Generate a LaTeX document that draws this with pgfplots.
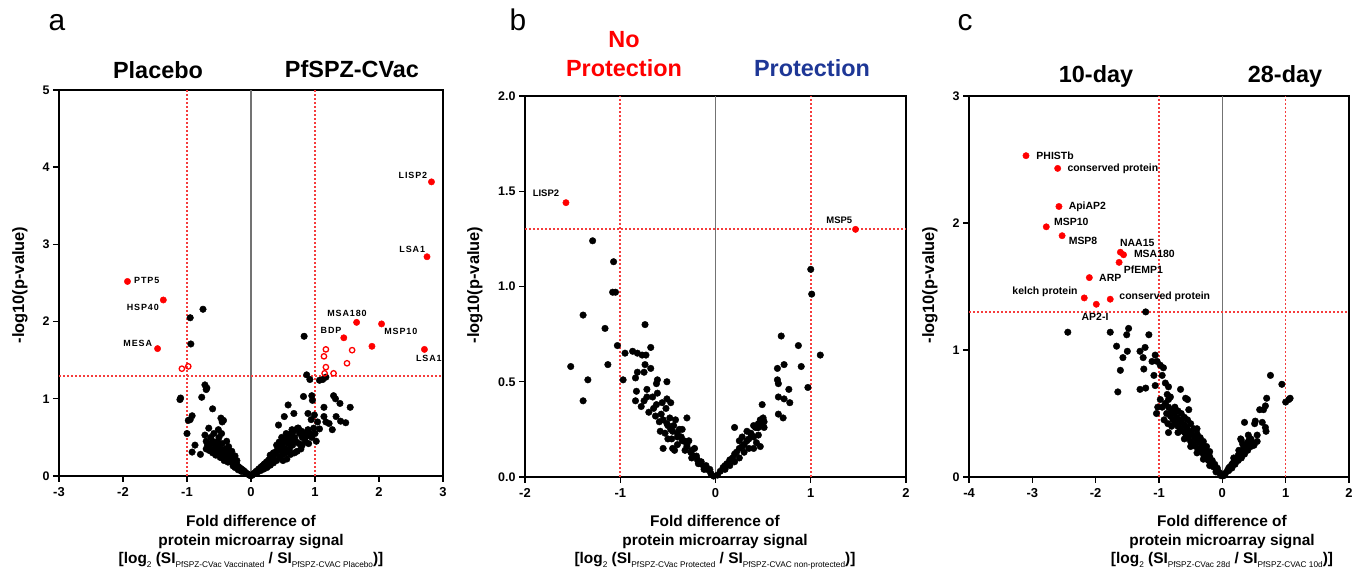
\documentclass[border=0pt]{standalone}
\usepackage{fontspec}
\setmainfont{Liberation Sans}
\newfontfamily\spacedfont[LetterSpace=10]{Liberation Sans}
\usepackage{pgfplots}
\pgfplotsset{compat=1.18}
\definecolor{myred}{RGB}{255,0,0}
\definecolor{thrred}{RGB}{245,60,60}
\definecolor{myblue}{RGB}{30,55,150}
\newcommand{\labfont}{\fontsize{15.5}{15.5}\selectfont\bfseries}
\newcommand{\ylfont}{\fontsize{16.5}{16.5}\selectfont\bfseries}
\newcommand{\hdfont}{\fontsize{23.5}{23.5}\selectfont\bfseries}
\newcommand{\pfont}{\fontsize{30}{30}\selectfont}
\newcommand{\lafont}{\spacedfont\fontsize{9}{9}\selectfont\bfseries}
\newcommand{\lbfont}{\fontsize{9.5}{9.5}\selectfont\bfseries}
\newcommand{\lcfont}{\fontsize{10.5}{10.5}\selectfont\bfseries}
\newcommand{\sub}[1]{\raisebox{-0.28em}{\fontsize{8.3}{8.3}\selectfont\mdseries #1}}
\tikzset{
 zl/.style={draw=black!55, line width=1.2bp},
}
\pgfplotsset{
 volc/.style={
  scale only axis, anchor=south west,
  axis line style={line width=1.6bp, black},
  tick align=outside, tick pos=left,
  major tick length=6bp,
  every tick/.style={black, line width=1.4bp},
  yticklabel style={font=\fontsize{12.5}{12.5}\selectfont\bfseries},
  xticklabel style={font=\fontsize{13}{13}\selectfont\bfseries, yshift=-2bp},
  /pgf/number format/assume math mode=true,
  clip=false,
 },
 thr/.style={no marks, draw=thrred, line width=1.6bp, dash pattern=on 2bp off 2bp, forget plot},
 thrh/.style={no marks, draw=thrred, line width=2bp, dash pattern=on 2bp off 2bp, forget plot},
 blk/.style={only marks, mark=*, mark size=3.3bp, mark options={fill=black, draw=black}},
 redf/.style={only marks, mark=*, mark size=3.2bp, mark options={fill=myred, draw=myred}},
 redo/.style={only marks, mark=o, mark size=2.7bp, mark options={draw=myred, line width=1.3bp}},
}
\begin{document}
\begin{tikzpicture}
\useasboundingbox (0,0) rectangle (1361bp,571bp);
% ================= panel a =================
\begin{axis}[volc, at={(59bp,95bp)}, width=384bp, height=386bp,
  xmin=-3, xmax=3, ymin=0, ymax=5, xtick={-3,-2,-1,0,1,2,3}, ytick={0,1,2,3,4,5}]
\draw[zl] (axis cs:0,0) -- (axis cs:0,5);
\addplot[thr] coordinates {(-1,0) (-1,5)};
\addplot[thr] coordinates {(1,0) (1,5)};
\addplot[thrh] coordinates {(-3,1.3) (3,1.3)};
\addplot[blk] coordinates {
(-0.95,2.05) (-0.75,2.16) (-0.94,1.71) (-1.10,1.01) (-1.11,0.99) (-0.72,1.18) (-0.69,1.14) (-0.70,1.12)
(-0.77,1.02) (-0.92,0.78) (-0.95,0.73) (-0.98,0.72) (-1.00,0.55) (-0.875,0.40) (-0.92,0.31) (-0.79,0.28)
(-0.60,0.87) (-0.47,0.75) (-0.43,0.72) (-0.45,0.70) (-0.66,0.62) (-0.72,0.53) (-0.60,0.45) (-0.51,0.60)
(-0.46,0.55) (-0.50,0.50) (-0.70,0.45) (-0.68,0.40) (-0.65,0.38) (-0.62,0.42) (-0.58,0.35) (-0.55,0.40)
(-0.55,0.32) (-0.52,0.38) (-0.50,0.30) (-0.48,0.35) (-0.47,0.28) (-0.45,0.32) (-0.43,0.26) (-0.42,0.30)
(-0.40,0.24) (-0.38,0.28) (-0.36,0.22) (-0.35,0.25) (-0.33,0.20) (-0.32,0.23) (-0.30,0.18) (-0.28,0.20)
(-0.27,0.16) (-0.25,0.17) (-0.23,0.14) (-0.22,0.15) (-0.20,0.12) (-0.18,0.11) (-0.17,0.10) (-0.15,0.09)
(-0.13,0.08) (-0.12,0.06) (-0.10,0.06) (-0.08,0.04) (-0.06,0.03) (-0.04,0.02) (-0.02,0.01) (-0.01,0.005)
(-0.60,0.30) (-0.65,0.33) (-0.40,0.35) (-0.45,0.42) (-0.38,0.33) (-0.52,0.45) (-0.33,0.27) (-0.30,0.24)
(-0.55,0.27) (-0.48,0.24) (-0.42,0.20) (-0.36,0.18) (-0.28,0.13) (-0.25,0.11) (-0.20,0.08) (-0.15,0.06)
(-0.70,0.35) (-0.63,0.50) (-0.58,0.55) (-0.38,0.45) (-0.35,0.38) (-0.30,0.32) (-0.25,0.26) (-0.22,0.20)
(0.83,1.81) (0.87,1.31) (0.92,1.25) (1.07,1.24) (1.12,1.25) (1.17,1.28) (0.82,1.03) (0.95,1.04)
(0.96,0.98) (1.29,1.04) (1.32,1.00) (1.39,0.94) (1.55,0.89) (1.14,0.89) (0.58,0.92) (0.67,0.81)
(0.52,0.77) (0.43,0.66) (0.89,0.81) (0.99,0.79) (0.94,0.73) (1.14,0.77) (1.33,0.77) (1.22,0.68)
(1.04,0.70) (1.07,0.61) (1.48,0.69) (1.40,0.71) (1.27,0.60) (1.17,0.70) (0.64,0.60) (0.74,0.62)
(0.79,0.58) (0.89,0.60) (0.98,0.62) (1.00,0.55) (0.95,0.50) (1.02,0.45)
(0.02,0.01) (0.04,0.03) (0.06,0.04) (0.08,0.06) (0.10,0.07) (0.12,0.09) (0.14,0.10) (0.16,0.12)
(0.18,0.13) (0.20,0.15) (0.22,0.16) (0.24,0.18) (0.26,0.19) (0.28,0.21) (0.30,0.22) (0.32,0.24)
(0.34,0.26) (0.36,0.27) (0.38,0.30) (0.40,0.32) (0.42,0.35) (0.45,0.38) (0.48,0.40) (0.50,0.43)
(0.52,0.45) (0.55,0.48) (0.58,0.50) (0.60,0.53) (0.63,0.55) (0.66,0.58) (0.70,0.60) (0.73,0.62)
(0.76,0.55) (0.80,0.50) (0.84,0.55) (0.88,0.52) (0.92,0.55) (0.70,0.45) (0.65,0.40) (0.60,0.35)
(0.55,0.30) (0.50,0.28) (0.45,0.25) (0.40,0.20) (0.35,0.17) (0.30,0.14) (0.25,0.11) (0.20,0.09)
(0.15,0.07) (0.10,0.05) (0.75,0.42) (0.80,0.40) (0.85,0.45) (0.90,0.42) (0.78,0.35) (0.72,0.32)
(0.68,0.30) (0.62,0.28) (0.56,0.22) (0.50,0.20) (0.46,0.33) (0.52,0.36) (0.58,0.42) (0.62,0.46)
(0.68,0.50) (0.35,0.30) (0.30,0.27) (0.40,0.40) (0.44,0.44) (0.48,0.50) (0.55,0.55)
};
\addplot[redo] coordinates {
(-1.08,1.39) (-0.98,1.42) (1.17,1.64) (1.14,1.55) (1.58,1.63) (1.50,1.46) (1.17,1.41) (1.15,1.33) (1.29,1.33)
};
\addplot[redf] coordinates {
(2.82,3.81) (2.75,2.84) (-1.93,2.52) (-1.37,2.28) (-1.46,1.65) (1.65,1.99) (2.04,1.97) (1.45,1.79) (1.89,1.68) (2.71,1.64)
};
\node[font=\lafont] at (axis cs:2.53,3.89) {LISP2};
\node[font=\lafont] at (axis cs:2.52,2.94) {LSA1};
\node[font=\lafont] at (axis cs:-1.63,2.53) {PTP5};
\node[font=\lafont] at (axis cs:-1.69,2.19) {HSP40};
\node[font=\lafont] at (axis cs:-1.77,1.72) {MESA};
\node[font=\lafont] at (axis cs:1.50,2.10) {MSA180};
\node[font=\lafont] at (axis cs:1.25,1.89) {BDP};
\node[font=\lafont] at (axis cs:2.34,1.87) {MSP10};
\node[font=\lafont] at (axis cs:2.78,1.52) {LSA1};
\end{axis}
% ================= panel b =================
\begin{axis}[volc, at={(525bp,94bp)}, width=381bp, height=381bp,
  xmin=-2, xmax=2, ymin=0, ymax=2, xtick={-2,-1,0,1,2}, ytick={0,0.5,1,1.5,2},
  yticklabel style={/pgf/number format/.cd, fixed, fixed zerofill, precision=1}]
\draw[zl] (axis cs:0,0) -- (axis cs:0,2);
\addplot[thr] coordinates {(-1,0) (-1,2)};
\addplot[thr] coordinates {(1,0) (1,2)};
\addplot[thrh] coordinates {(-2,1.3) (2,1.3)};
\addplot[blk] coordinates {
(-1.29,1.24) (-1.07,1.13) (-1.08,0.97) (-1.05,0.97) (-1.39,0.85) (-1.16,0.78) (-0.74,0.80) (-1.52,0.58)
(-1.13,0.59) (-1.34,0.51) (-1.39,0.40) (-1.03,0.69) (-0.97,0.51)
(-0.68,0.68) (-0.82,0.65) (-0.77,0.64) (-0.73,0.64) (-0.95,0.65) (-0.87,0.66) (-0.74,0.59) (-0.68,0.57)
(-0.82,0.55) (-0.75,0.55) (-0.84,0.52) (-0.61,0.51) (-0.62,0.49) (-0.51,0.50) (-0.83,0.45) (-0.72,0.46)
(-0.72,0.42) (-0.61,0.44) (-0.84,0.40) (-0.78,0.37) (-0.75,0.40) (-0.51,0.41) (-0.47,0.39) (-0.52,0.36)
(-0.70,0.34) (-0.65,0.36) (-0.63,0.32) (-0.59,0.29) (-0.30,0.31) (-0.51,0.28) (-0.47,0.25) (-0.42,0.30)
(-0.40,0.23) (-0.35,0.25) (-0.33,0.19) (-0.55,0.15) (-0.43,0.14) (-0.45,0.15) (-0.30,0.16) (-0.26,0.13)
(-0.23,0.11) (-0.19,0.09) (-0.16,0.07) (-0.12,0.05) (-0.09,0.04) (-0.05,0.02) (-0.02,0.005)
(-0.55,0.30) (-0.50,0.27) (-0.45,0.24) (-0.40,0.21) (-0.35,0.19) (-0.30,0.17) (-0.25,0.14) (-0.20,0.11)
(-0.15,0.08) (-0.10,0.06) (-0.06,0.04) (-0.58,0.24) (-0.50,0.20) (-0.40,0.17) (-0.32,0.14) (-0.25,0.10)
(-0.18,0.07) (-0.12,0.04) (-0.62,0.38) (-0.57,0.33) (-0.48,0.31) (-0.44,0.27) (-0.38,0.25) (-0.36,0.21)
(-0.28,0.19) (-0.22,0.15) (-0.66,0.42) (-0.56,0.39) (-0.53,0.23) (-0.46,0.20)
(0.69,0.74) (0.87,0.69) (1.10,0.64) (0.72,0.59) (0.65,0.57) (0.90,0.58) (0.65,0.51) (0.66,0.49)
(0.77,0.46) (0.97,0.47) (0.66,0.42) (0.72,0.41) (0.78,0.39) (0.49,0.38) (0.66,0.33) (0.71,0.31)
(0.47,0.30) (0.49,0.28) (0.42,0.26) (0.45,0.26) (0.51,0.26) (0.20,0.26) (0.37,0.23) (0.40,0.21)
(0.45,0.22) (0.47,0.16) (1.00,1.09) (1.01,0.96) (0.51,0.29) (0.44,0.26)
(0.02,0.01) (0.05,0.03) (0.08,0.05) (0.10,0.06) (0.12,0.07) (0.15,0.09) (0.18,0.10) (0.20,0.12)
(0.22,0.13) (0.25,0.15) (0.28,0.16) (0.30,0.17) (0.33,0.19) (0.35,0.20) (0.38,0.22) (0.10,0.04)
(0.15,0.06) (0.20,0.08) (0.25,0.10) (0.30,0.13) (0.35,0.15) (0.40,0.15) (0.43,0.18) (0.33,0.24)
(0.28,0.21) (0.25,0.19) (0.40,0.27) (0.45,0.28) (0.48,0.30) (0.50,0.31)
};
\addplot[redf] coordinates {(-1.57,1.44) (1.47,1.30)};
\node[font=\lbfont] at (axis cs:-1.78,1.49) {LISP2};
\node[font=\lbfont] at (axis cs:1.30,1.35) {MSP5};
\end{axis}
% ================= panel c =================
\begin{axis}[volc, at={(969bp,94bp)}, width=380bp, height=381bp,
  xmin=-4, xmax=2, ymin=0, ymax=3, xtick={-4,-3,-2,-1,0,1,2}, ytick={0,1,2,3}]
\draw[zl] (axis cs:0,0) -- (axis cs:0,3);
\addplot[thr] coordinates {(-1,0) (-1,3)};
\addplot[thr] coordinates {(1,0) (1,3)};
\addplot[thrh] coordinates {(-4,1.3) (2,1.3)};
\addplot[blk] coordinates {
(-1.21,1.30) (-2.44,1.14) (-1.77,1.14) (-1.48,1.17) (-1.51,1.12) (-1.16,1.12) (-1.67,1.03) (-1.22,1.02)
(-1.50,0.99) (-1.57,0.94) (-1.30,0.99) (-1.25,0.94) (-1.61,0.84) (-1.24,0.85) (-1.65,0.67) (-1.30,0.69)
(-1.21,0.70) (-1.06,0.96) (-1.03,0.91) (-1.08,0.80) (-1.06,0.72)
(-1.11,0.91) (-0.98,0.88) (-0.93,0.86) (-0.95,0.80) (-0.90,0.74) (-0.85,0.71) (-0.87,0.65) (-0.82,0.63)
(-0.85,0.61) (-0.98,0.61) (-1.02,0.55) (-1.04,0.50) (-0.66,0.69) (-0.58,0.62) (-0.55,0.61) (-0.53,0.53)
(-0.85,0.35) (-0.40,0.38)
(-0.95,0.55) (-0.90,0.58) (-0.88,0.50) (-0.85,0.55) (-0.82,0.48) (-0.80,0.52) (-0.78,0.45) (-0.76,0.50)
(-0.74,0.42) (-0.72,0.47) (-0.70,0.40) (-0.68,0.45) (-0.66,0.38) (-0.64,0.43) (-0.62,0.36) (-0.60,0.41)
(-0.58,0.34) (-0.56,0.39) (-0.54,0.31) (-0.52,0.36) (-0.50,0.28) (-0.48,0.34) (-0.46,0.26) (-0.44,0.31)
(-0.42,0.24) (-0.40,0.29) (-0.38,0.22) (-0.36,0.27) (-0.34,0.20) (-0.32,0.24) (-0.30,0.18) (-0.28,0.22)
(-0.26,0.15) (-0.24,0.19) (-0.22,0.13) (-0.20,0.16) (-0.18,0.11) (-0.16,0.13) (-0.14,0.08) (-0.12,0.10)
(-0.10,0.06) (-0.08,0.07) (-0.06,0.04) (-0.04,0.03) (-0.02,0.01) (-0.75,0.55) (-0.70,0.52) (-0.65,0.50)
(-0.60,0.47) (-0.55,0.45) (-0.50,0.42) (-0.45,0.38) (-0.40,0.34) (-0.35,0.31) (-0.30,0.28) (-0.25,0.24)
(-0.20,0.20) (-0.92,0.45) (-0.86,0.42) (-0.80,0.40) (-0.70,0.35) (-0.60,0.30) (-0.50,0.24) (-0.40,0.19)
(-0.30,0.14) (-0.20,0.09) (-0.10,0.04)
(0.76,0.80) (0.94,0.73) (1.05,0.61) (1.00,0.59) (1.07,0.62) (0.70,0.62) (0.68,0.56) (0.65,0.53)
(0.59,0.53) (0.63,0.43) (0.52,0.44) (0.35,0.43) (0.51,0.42) (0.68,0.39) (0.69,0.36) (0.55,0.33)
(0.41,0.33) (0.29,0.30) (0.30,0.29)
(0.02,0.01) (0.05,0.03) (0.08,0.05) (0.10,0.07) (0.12,0.08) (0.15,0.10) (0.18,0.12) (0.20,0.14)
(0.22,0.15) (0.25,0.17) (0.28,0.19) (0.30,0.20) (0.33,0.22) (0.35,0.24) (0.38,0.25) (0.40,0.27)
(0.42,0.29) (0.45,0.30) (0.10,0.05) (0.15,0.07) (0.20,0.10) (0.25,0.13) (0.30,0.15) (0.35,0.18)
(0.40,0.21) (0.45,0.24) (0.48,0.27) (0.50,0.25) (0.55,0.28) (0.32,0.26) (0.26,0.21) (0.18,0.15)
};
\addplot[redf] coordinates {
(-3.10,2.53) (-2.60,2.43) (-2.58,2.13) (-2.78,1.97) (-2.53,1.90) (-1.61,1.77) (-1.56,1.75) (-1.63,1.69)
(-2.10,1.57) (-2.18,1.41) (-1.99,1.36) (-1.77,1.40)
};
\node[font=\lcfont, anchor=west] at (axis cs:-2.99,2.53) {PHISTb};
\node[font=\lcfont, anchor=west] at (axis cs:-2.50,2.43) {conserved protein};
\node[font=\lcfont, anchor=west] at (axis cs:-2.48,2.13) {ApiAP2};
\node[font=\lcfont, anchor=west] at (axis cs:-2.71,2.01) {MSP10};
\node[font=\lcfont, anchor=west] at (axis cs:-2.48,1.86) {MSP8};
\node[font=\lcfont, anchor=west] at (axis cs:-1.67,1.84) {NAA15};
\node[font=\lcfont, anchor=west] at (axis cs:-1.45,1.76) {MSA180};
\node[font=\lcfont, anchor=west] at (axis cs:-1.61,1.63) {PfEMP1};
\node[font=\lcfont, anchor=west] at (axis cs:-2.00,1.57) {ARP};
\node[font=\lcfont, anchor=east] at (axis cs:-2.23,1.46) {kelch protein};
\node[font=\lcfont] at (axis cs:-2.01,1.26) {AP2-I};
\node[font=\lcfont, anchor=west] at (axis cs:-1.68,1.42) {conserved protein};
\end{axis}
% ================= texts =================
\node[font=\pfont, anchor=base] at (57bp,540bp) {a};
\node[font=\pfont, anchor=base] at (518bp,540bp) {b};
\node[font=\pfont, anchor=base] at (965bp,540bp) {c};
\node[font=\hdfont, anchor=base] at (158bp,492bp) {Placebo};
\node[font=\hdfont, anchor=base] at (352bp,493bp) {PfSPZ-CVac};
\node[font=\hdfont, anchor=base, text=myred] at (624bp,523bp) {No};
\node[font=\hdfont, anchor=base, text=myred] at (624bp,494bp) {Protection};
\node[font=\hdfont, anchor=base, text=myblue] at (812bp,494bp) {Protection};
\node[font=\hdfont, anchor=base] at (1096bp,488bp) {10-day};
\node[font=\hdfont, anchor=base] at (1285bp,488bp) {28-day};
\node[font=\ylfont, rotate=90] at (20bp,286bp) {-log10(p-value)};
\node[font=\ylfont, rotate=90] at (475bp,286bp) {-log10(p-value)};
\node[font=\ylfont, rotate=90] at (930bp,286bp) {-log10(p-value)};
\foreach \cx in {251,715,1222}{
  \node[font=\labfont, anchor=base] at (\cx bp,44bp) {Fold difference of};
  \node[font=\labfont, anchor=base] at (\cx bp,26bp) {protein microarray signal};
}
\node[font=\labfont, anchor=base] at (251bp,8bp) {[log\sub{2} (SI\sub{PfSPZ-CVac Vaccinated} / SI\sub{PfSPZ-CVAC Placebo})]};
\node[font=\labfont, anchor=base] at (715bp,8bp) {[log\sub{2} (SI\sub{PfSPZ-CVac Protected} / SI\sub{PfSPZ-CVAC non-protected})]};
\node[font=\labfont, anchor=base] at (1222bp,8bp) {[log\sub{2} (SI\sub{PfSPZ-CVac 28d} / SI\sub{PfSPZ-CVAC 10d})]};
\end{tikzpicture}
\end{document}
